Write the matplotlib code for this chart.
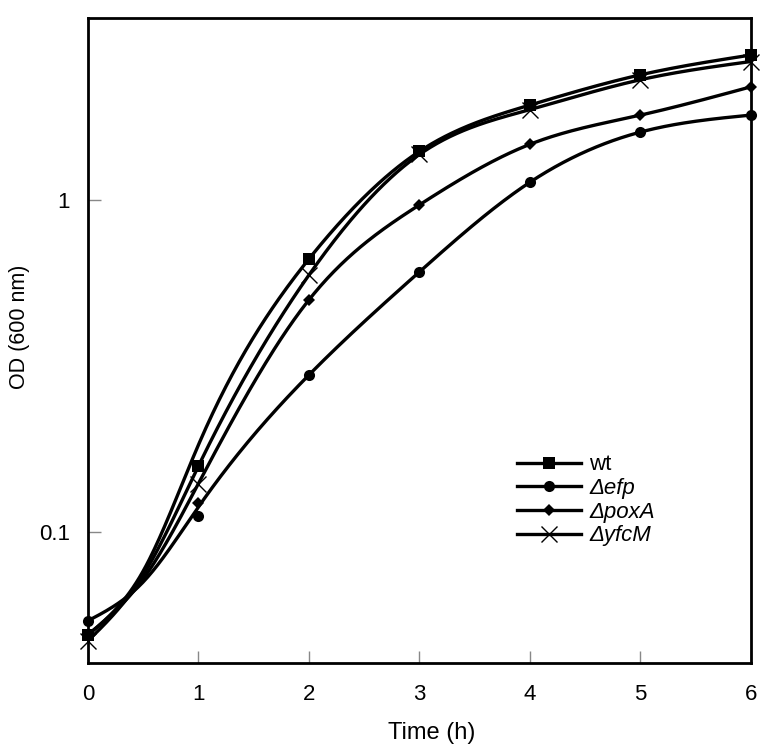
import numpy as np
import matplotlib
matplotlib.use('Agg')
import matplotlib.pyplot as plt
from matplotlib.lines import Line2D

plt.rcParams['font.family'] = ['Liberation Sans', 'DejaVu Sans']

# growth curves, OD600 over time (markers = measured points)
time_h = [0, 1, 2, 3, 4, 5, 6]
od_wt = [0.049, 0.158, 0.664, 1.40, 1.93, 2.38, 2.73]
od_efp = [0.054, 0.112, 0.297, 0.607, 1.13, 1.60, 1.80]
od_poxA = [0.049, 0.122, 0.50, 0.966, 1.47, 1.80, 2.19]
od_yfcM = [0.047, 0.139, 0.594, 1.37, 1.87, 2.30, 2.61]

# the drawn (smoothed) curves; they run above the 1 h points
curve_t = [0, 0.5, 1, 2, 3, 4, 5, 6]
curve_wt = [0.049, 0.0763, 0.183, 0.664, 1.40, 1.93, 2.38, 2.73]
curve_efp = [0.054, 0.0707, 0.119, 0.297, 0.607, 1.13, 1.60, 1.80]
curve_poxA = [0.049, 0.0722, 0.140, 0.50, 0.966, 1.47, 1.80, 2.19]
curve_yfcM = [0.047, 0.0742, 0.158, 0.594, 1.37, 1.87, 2.30, 2.61]

labels = ['wt', '\u0394efp', '\u0394poxA', '\u0394yfcM']
markers = ['s', 'o', 'D', 'x']
msizes = [8.5, 8, 6, 11]


def smooth(x, y, n=400):
    # natural cubic spline through the curve points, in log10 space
    x = np.asarray(x, float)
    ly = np.log10(np.asarray(y, float))
    k = len(x)
    h = np.diff(x)
    A = np.zeros((k, k))
    r = np.zeros(k)
    A[0, 0] = A[-1, -1] = 1
    for i in range(1, k - 1):
        A[i, i - 1] = h[i - 1]
        A[i, i] = 2 * (h[i - 1] + h[i])
        A[i, i + 1] = h[i]
        r[i] = 6 * ((ly[i + 1] - ly[i]) / h[i] - (ly[i] - ly[i - 1]) / h[i - 1])
    M = np.linalg.solve(A, r)
    xs = np.linspace(x[0], x[-1], n)
    j = np.clip(np.searchsorted(x, xs) - 1, 0, k - 2)
    a = x[j + 1] - xs
    b = xs - x[j]
    hj = h[j]
    ys = (M[j] * a ** 3 + M[j + 1] * b ** 3) / (6 * hj) \
        + (ly[j] / hj - M[j] * hj / 6) * a + (ly[j + 1] / hj - M[j + 1] * hj / 6) * b
    return xs, 10 ** ys


fig = plt.figure(figsize=(7.6, 7.46), dpi=100)
ax = fig.add_axes([0.1158, 0.1113, 0.8722, 0.8646])

handles = []
series = zip([od_wt, od_efp, od_poxA, od_yfcM], [curve_wt, curve_efp, curve_poxA, curve_yfcM],
             labels, markers, msizes)
for y, c, lab, m, ms in series:
    sx, sy = smooth(curve_t, c)
    ax.plot(sx, sy, color='black', lw=2.4, solid_capstyle='round')
    mew = 1.0 if m == 'x' else 0
    ax.plot(time_h, y, ls='none', marker=m, ms=ms, color='black', mew=mew, clip_on=False)
    handles.append(Line2D([], [], color='black', lw=2.4, marker=m, ms=ms, mew=mew))

ax.set_yscale('log')
ax.set_xlim(0, 6)
ax.set_ylim(0.0403, 3.53)
ax.set_yticks([0.1, 1])
ax.set_yticklabels(['0.1', '1'])
ax.yaxis.set_minor_locator(matplotlib.ticker.NullLocator())
ax.set_xticks(time_h)
ax.tick_params(direction='in', length=9, width=1, color='#888888', labelsize=16)
ax.tick_params(axis='x', pad=15)
ax.tick_params(axis='y', pad=13)

for s in ax.spines.values():
    s.set_linewidth(2)

ax.set_xlabel('Time (h)', fontsize=17)
ax.set_ylabel('OD (600 nm)', fontsize=15.5)
ax.xaxis.set_label_coords(0.519, -0.092)
ax.yaxis.set_label_coords(-0.088, 0.521)

leg = ax.legend(handles, labels, loc='center left', bbox_to_anchor=(0.647, 0.252), frameon=False,
                borderpad=0, borderaxespad=0, fontsize=16, handlelength=2.9,
                handletextpad=0.35, labelspacing=0.12)
for i, t in enumerate(leg.get_texts()):
    if i > 0:
        t.set_style('italic')

fig.savefig('out.png', dpi=100)
